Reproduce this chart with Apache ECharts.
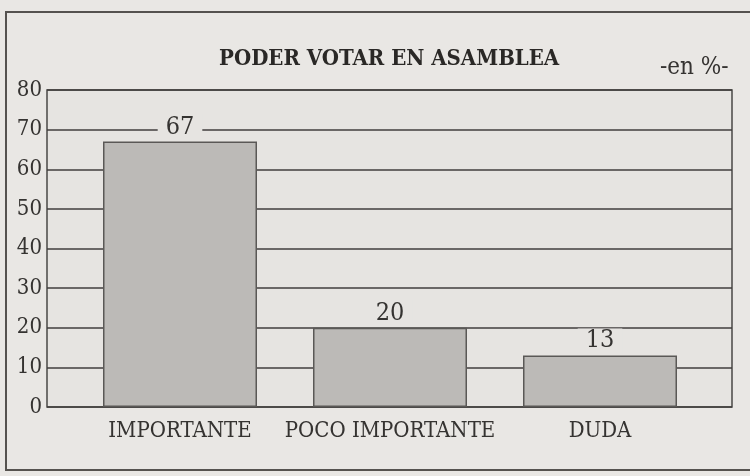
<!DOCTYPE html>
<html>
<head>
<meta charset="utf-8">
<script src="https://cdn.jsdelivr.net/npm/echarts@6/dist/echarts.min.js"></script>
<style>html,body{margin:0;padding:0;background:#e9e7e4;}#c{width:750px;height:476px;}</style>
</head>
<body>
<div id="c"></div>
<script>
var categories = ['IMPORTANTE', 'POCO IMPORTANTE', 'DUDA'];
var values = [67, 20, 13];
var titleText = 'PODER VOTAR EN ASAMBLEA';
var unitText = '-en %-';
var yMin = 0, yMax = 80, yStep = 10;

var bg = '#e9e7e4';
var ink = '#353331';
var font = '"DejaVu Serif Condensed", "Liberation Serif", serif';

var chart = echarts.init(document.getElementById('c'), null, {renderer: 'canvas'});
chart.setOption({
  backgroundColor: bg,
  animation: false,
  title: [
    {text: titleText, left: 219, top: 48, padding: 0,
     textStyle: {fontFamily: font, fontWeight: 'bold', fontSize: 22, color: '#2a2826'}},
    {text: unitText, left: 660, top: 56, padding: 0,
     textStyle: {fontFamily: font, fontWeight: 'normal', fontSize: 24, color: ink}}
  ],
  graphic: [{
    type: 'rect', silent: true, z: -10,
    shape: {x: 6, y: 12, width: 800, height: 458},
    style: {fill: 'none', stroke: '#55524f', lineWidth: 2}
  }],
  grid: [
    {left: 75, right: 45, top: 90, bottom: 69},
    {left: 47, right: 18, top: 90, bottom: 69, show: true,
     backgroundColor: '#e6e4e1', borderColor: '#4a4846', borderWidth: 1.5}
  ],
  xAxis: [
    {type: 'category', data: categories, gridIndex: 0,
     axisLine: {show: false}, axisTick: {show: false},
     axisLabel: {interval: 0, fontFamily: font, fontSize: 22, color: ink, margin: 13}},
    {type: 'value', gridIndex: 1, show: false, min: 0, max: 1}
  ],
  yAxis: [
    {type: 'value', gridIndex: 0, min: yMin, max: yMax, interval: yStep, show: false},
    {type: 'value', gridIndex: 1, min: yMin, max: yMax, interval: yStep,
     axisLine: {show: false}, axisTick: {show: false},
     splitLine: {show: true, lineStyle: {color: '#403e3c', width: 1.5}},
     axisLabel: {fontFamily: font, fontSize: 22, color: ink, margin: 5}}
  ],
  series: [{
    type: 'bar', xAxisIndex: 0, yAxisIndex: 0, data: values,
    barWidth: 154, z: 3,
    itemStyle: {color: '#bcbab7', borderColor: '#5a5856', borderWidth: 1.5},
    label: {show: true, position: 'top', distance: 2,
      fontFamily: font, fontSize: 25, color: ink,
      backgroundColor: '#e6e4e1', padding: [0, 8, 0, 8]}
  }]
});
</script>
</body>
</html>
